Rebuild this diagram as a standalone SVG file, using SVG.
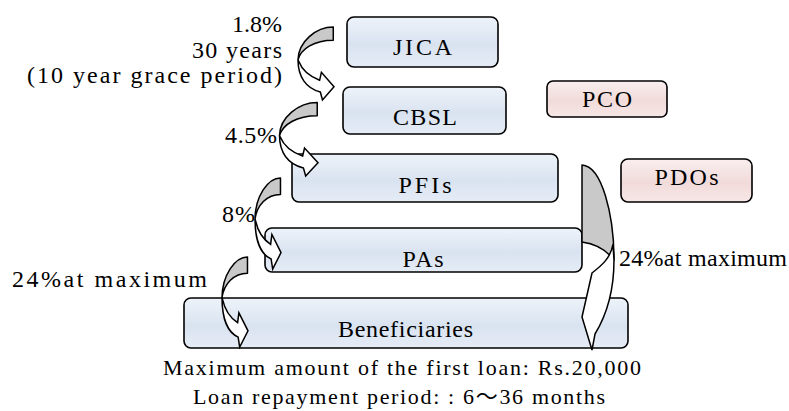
<svg xmlns="http://www.w3.org/2000/svg" xmlns:xlink="http://www.w3.org/1999/xlink" width="789" height="411" viewBox="0 0 789 411">
<style>
.box{stroke:#000;stroke-width:1.6}
.blue{fill:url(#gBlue)}
.pink{fill:url(#gPink)}
text{font-family:"Liberation Serif","DejaVu Serif","Times New Roman",Times,serif;font-size:24px;fill:#000}
.sm{font-size:22px}
.cjk{font-family:"Noto Sans CJK JP",sans-serif}
.m{text-anchor:middle}
.e{text-anchor:end}
.back{fill:#c9c9c9;stroke:#000;stroke-width:1.5;vector-effect:non-scaling-stroke;stroke-linejoin:round}
.front{fill:#fff;stroke:#000;stroke-width:1.5;vector-effect:non-scaling-stroke;stroke-linejoin:miter}
</style>
<defs>
<linearGradient id="gBlue" x1="0" y1="0" x2="0" y2="1">
<stop offset="0" stop-color="#eef3fa"/>
<stop offset="0.55" stop-color="#d9e3f0"/>
<stop offset="1" stop-color="#e5ecf6"/>
</linearGradient>
<linearGradient id="gPink" x1="0" y1="0" x2="0" y2="1">
<stop offset="0" stop-color="#f9eeee"/>
<stop offset="0.55" stop-color="#f1dbda"/>
<stop offset="1" stop-color="#f7e7e7"/>
</linearGradient>
<g id="ca">
<path class="back" d="M98,0 C50,0 1,20 0,45 C8,30 45,18 98,18 Z"/>
<path class="front" d="M0,45 C0,68 22,84 62,89 L68,100 L100,82 L65,62 L60,73 C34,68 12,60 2,47 Z"/>
</g>
</defs>

<g id="JICA">
<rect class="box blue" x="347" y="17" width="151" height="50" rx="7"/>
<text class="m" x="422.5" y="55" textLength="59">JICA</text>
</g>
<g id="CBSL">
<rect class="box blue" x="343" y="87" width="163" height="47" rx="7"/>
<text class="m" x="425" y="125" textLength="64">CBSL</text>
</g>
<g id="PCO">
<rect class="box pink" x="547" y="81" width="120" height="36" rx="6"/>
<text class="m" x="607" y="107" textLength="50">PCO</text>
</g>
<g id="PFIs">
<rect class="box blue" x="292" y="154" width="266" height="48" rx="7"/>
<text class="m" x="425" y="193" textLength="53">PFIs</text>
</g>
<g id="PDOs">
<rect class="box pink" x="621" y="159" width="131" height="43" rx="7"/>
<text class="m" x="686.5" y="185" textLength="64">PDOs</text>
</g>
<g id="PAs">
<rect class="box blue" x="265" y="228" width="317" height="44" rx="7"/>
<text class="m" x="423" y="267" textLength="41">PAs</text>
</g>
<g id="Beneficiaries">
<rect class="box blue" x="184" y="298" width="444" height="50" rx="7"/>
<text class="m" x="405.5" y="337" textLength="135">Beneficiaries</text>
</g>

<g id="connectors">
<use xlink:href="#ca" transform="translate(298,27) scale(0.36,0.73)"/>
<use xlink:href="#ca" transform="translate(279.5,102.5) scale(0.385,0.735)"/>
<use xlink:href="#ca" transform="translate(255,178) scale(0.26,0.91)"/>
<use xlink:href="#ca" transform="translate(222,257) scale(0.26,0.90)"/>
<path class="back" d="M582,165 C602,166 614,215 614,260 C608,252 597,244 582,242 Z"/>
<path class="front" d="M613,244 C611,258 601,266 592,273 L582,317 L592,350 L595,334 C606,316 614,292 614,260 Z"/>
</g>

<g id="labels">
<text class="e" x="282" y="32" textLength="50">1.8%</text>
<text class="e" x="282" y="58" textLength="90">30 years</text>
<text class="e" x="282" y="83" textLength="255">(10 year grace period)</text>
<text class="e" x="277" y="143" textLength="52">4.5%</text>
<text class="e" x="255" y="222" textLength="33">8%</text>
<text x="12" y="287" textLength="195">24%at maximum</text>
<text x="619" y="266" textLength="168">24%at maximum</text>
<text class="sm" x="163" y="375" textLength="478">Maximum amount of the first loan: Rs.20,000</text>
<text class="sm" x="193" y="404" textLength="412">Loan repayment period: : 6<tspan class="cjk">～</tspan>36 months</text>
</g>
</svg>
